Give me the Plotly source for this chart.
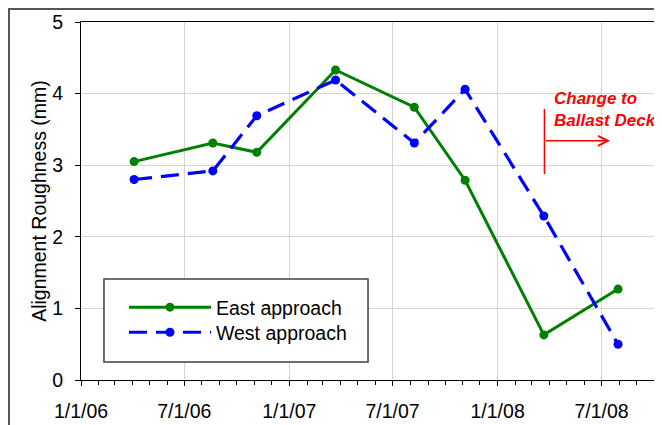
import plotly.graph_objects as go

# ---- data ----
east_dates = ["2006-04-04", "2006-08-20", "2006-11-05", "2007-03-23",
              "2007-08-08", "2007-11-05", "2008-03-22", "2008-07-30"]
east_values = [3.05, 3.31, 3.18, 4.33, 3.81, 2.79, 0.63, 1.27]

west_dates = ["2006-04-04", "2006-08-20", "2006-11-05", "2007-03-23",
              "2007-08-08", "2007-11-05", "2008-03-22", "2008-07-30"]
west_values = [2.80, 2.92, 3.69, 4.19, 3.31, 4.06, 2.29, 0.50]

series_names = ["East approach", "West approach"]
annotation_lines = ["Change to", "Ballast Deck"]
y_title = "Alignment Roughness (mm)"

# marker of the change (vertical bar and arrow)
change_date = "2008-03-23"
change_bar_y = [2.877, 3.785]
arrow_y = 3.34
arrow_end_date = "2008-07-16"

FONT = "Liberation Sans, Arial, sans-serif"
FS = 19.5

fig = go.Figure()
fig.add_trace(go.Scatter(
    x=east_dates, y=east_values, name=series_names[0], mode="lines+markers",
    line=dict(color="#008000", width=3),
    marker=dict(color="#008000", size=9),
    legend="legend",
))
fig.add_trace(go.Scatter(
    x=west_dates, y=west_values, name=series_names[1], mode="lines+markers",
    line=dict(color="#0000FF", width=3.2, dash="18px,9px"),
    marker=dict(color="#0000FF", size=9),
    legend="legend2",
))

# outer chart-area border
fig.add_shape(type="rect", xref="paper", yref="paper",
              x0=-0.1257, x1=1.04, y0=-0.16, y1=1.0363,
              line=dict(color="#555555", width=2), fillcolor="rgba(0,0,0,0)",
              layer="above")
# legend box
fig.add_shape(type="rect", xref="paper", yref="paper",
              x0=0.0401, x1=0.5009, y0=0.0503, y1=0.2821,
              line=dict(color="#404040", width=1.5), fillcolor="white",
              layer="above")
# vertical red bar
fig.add_shape(type="line", xref="x", yref="y",
              x0=change_date, x1=change_date, y0=change_bar_y[0], y1=change_bar_y[1],
              line=dict(color="#FF0000", width=1.5))
# red arrow
fig.add_annotation(x=arrow_end_date, y=arrow_y, ax=change_date, ay=arrow_y,
                   xref="x", yref="y", axref="x", ayref="y", text="",
                   showarrow=True, arrowhead=5, arrowsize=1.3, arrowwidth=1.5,
                   arrowcolor="#FF0000")
fig.add_annotation(x=0.822, y=0.818, xref="paper", yref="paper",
                   xanchor="left", yanchor="top", align="left",
                   text="<br>".join("<b><i>" + s + "</i></b>" for s in annotation_lines),
                   showarrow=False,
                   font=dict(family=FONT, size=17, color="#FF0000"))

legend_common = dict(xanchor="left", yanchor="top",
                     bgcolor="rgba(0,0,0,0)", borderwidth=0,
                     font=dict(family=FONT, size=FS, color="black"),
                     itemwidth=82)

fig.update_layout(
    width=654, height=417,
    margin=dict(l=73, r=8, t=14, b=45, autoexpand=False),
    paper_bgcolor="white", plot_bgcolor="white",
    font=dict(family=FONT, size=FS, color="black"),
    showlegend=True,
    legend=dict(x=0.075, y=0.257, **legend_common),
    legend2=dict(x=0.075, y=0.187, **legend_common),
)
fig.update_xaxes(
    type="date", range=["2006-01-01", "2008-10-01"], automargin=False,
    tick0="2006-01-01", dtick="M6", tickformat="%-m/%-d/%y",
    ticks="outside", ticklen=5, tickcolor="black",
    showline=True, linecolor="black", linewidth=1, mirror=True,
    showgrid=True, gridcolor="#d4d4d4", gridwidth=1.3,
    minor=dict(dtick="M1", ticks="outside", ticklen=4, tickcolor="black", showgrid=False),
    ticklabelstandoff=9,
    tickfont=dict(family=FONT, size=FS, color="black"),
)
fig.update_yaxes(
    range=[0, 5], dtick=1, tick0=0, automargin=False,
    ticks="outside", ticklen=5, tickcolor="black",
    showline=True, linecolor="black", linewidth=1, mirror=True,
    showgrid=True, gridcolor="#d4d4d4", gridwidth=1.3,
    zeroline=False,
    ticklabelstandoff=8,
    tickfont=dict(family=FONT, size=FS, color="black"),
    title=dict(text=y_title, standoff=0, font=dict(family=FONT, size=FS, color="black")),
)

fig.write_html("out.html")
